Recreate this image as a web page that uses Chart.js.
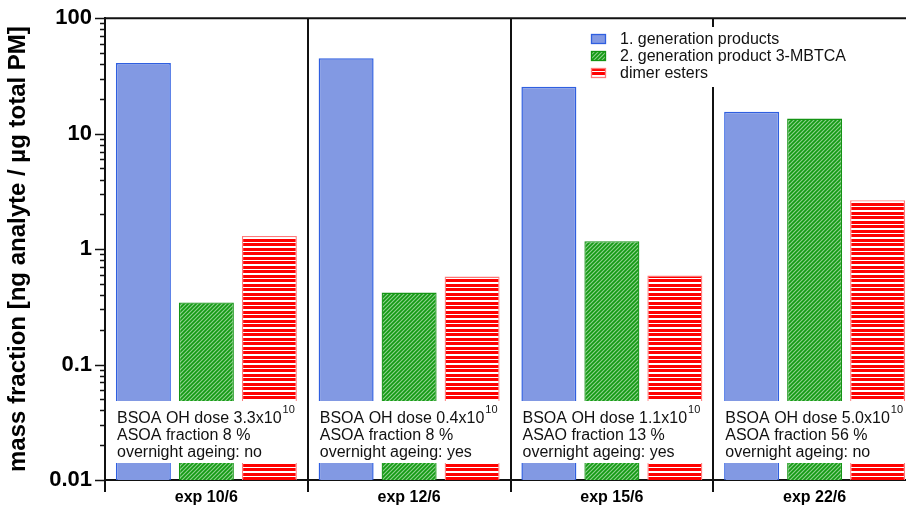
<!DOCTYPE html>
<html>
<head>
<meta charset="utf-8">
<script src="https://cdn.jsdelivr.net/npm/chart.js@4.4.0/dist/chart.umd.min.js"></script>
<style>
  html, body { margin: 0; padding: 0; background: #fff; overflow: hidden; }
  #wrap { width: 906px; height: 505px; overflow: hidden; position: relative; }
  canvas { display: block; }
</style>
</head>
<body>
<div id="wrap"><canvas id="c" width="920" height="505"></canvas></div>
<script>
// Experiments and measured mass fractions (ng analyte / µg total PM)
const experiments = ['exp 10/6', 'exp 12/6', 'exp 15/6', 'exp 22/6'];
const firstGeneration = [41, 45, 25.5, 15.5];
const mbtca = [0.345, 0.42, 1.17, 13.5];
const dimerEsters = [1.3, 0.58, 0.59, 2.65];

// Decade ticks on the logarithmic axis
const yDecades = [0.01, 0.1, 1, 10, 100];

// Experimental conditions printed in each group
const ohDose = ['3.3', '0.4', '1.1', '5.0'];
const organicFraction = ['ASOA fraction 8 %', 'ASOA fraction 8 %', 'ASAO fraction 13 %', 'ASOA fraction 56 %'];
const overnightAgeing = ['no', 'yes', 'yes', 'no'];

const FONT = '"Liberation Sans", Arial, Helvetica, sans-serif';

const canvas = document.getElementById('c');
const ctx = canvas.getContext('2d');

// Diagonal green hatch
function makeGreenHatch() {
  const t = document.createElement('canvas');
  t.width = 4; t.height = 4;
  const g = t.getContext('2d');
  g.fillStyle = '#8fd18f';
  g.fillRect(0, 0, 4, 4);
  g.strokeStyle = '#139a13';
  g.lineWidth = 1.7;
  g.beginPath();
  g.moveTo(-1, 5); g.lineTo(5, -1);
  g.moveTo(-1, 1); g.lineTo(1, -1);
  g.moveTo(3, 5); g.lineTo(5, 3);
  g.stroke();
  return ctx.createPattern(t, 'repeat');
}

// Horizontal red/white stripes
function makeRedStripes() {
  const t = document.createElement('canvas');
  t.width = 4; t.height = 9;
  const g = t.getContext('2d');
  g.fillStyle = '#ffffff';
  g.fillRect(0, 0, 4, 9);
  g.fillStyle = '#ff0000';
  g.fillRect(0, 0, 4, 3);
  g.fillRect(0, 5, 4, 3);
  return ctx.createPattern(t, 'repeat');
}

const greenHatch = makeGreenHatch();
const redStripes = makeRedStripes();

// Conditions box + legend + axis tick marks + top frame line
const decorations = {
  id: 'decorations',
  afterDatasetsDraw(chart) {
    const { ctx, scales: { x } } = chart;
    const cw = x.width / experiments.length;

    // conditions text boxes laid over the bars
    experiments.forEach((_, i) => {
      const cx = x.getPixelForValue(i);
      const left = cx - cw / 2;
      ctx.save();
      ctx.fillStyle = '#ffffff';
      ctx.fillRect(left + 6, 401, cw - 12, 62);
      ctx.fillStyle = '#111';
      ctx.textBaseline = 'alphabetic';
      ctx.textAlign = 'left';
      ctx.font = '16px ' + FONT;
      const tx = left + 12;
      const line1 = 'BSOA OH dose ' + ohDose[i] + 'x10';
      ctx.fillText(line1, tx, 423);
      const w = ctx.measureText(line1).width;
      ctx.fillText(organicFraction[i], tx, 440);
      ctx.fillText('overnight ageing: ' + overnightAgeing[i], tx, 457);
      ctx.font = '11px ' + FONT;
      ctx.fillText('10', tx + w + 1, 413);
      ctx.restore();
    });

    // legend
    const items = chart.data.datasets;
    ctx.save();
    ctx.fillStyle = '#ffffff';
    ctx.fillRect(584, 27, 300, 60);
    items.forEach((ds, k) => {
      const yy = 34 + k * 17;
      ctx.fillStyle = ds.backgroundColor;
      ctx.fillRect(591, yy, 15, 10);
      ctx.strokeStyle = ds.borderColor;
      ctx.lineWidth = 1.3;
      ctx.strokeRect(591.5, yy + 0.5, 14, 9);
      ctx.fillStyle = '#111';
      ctx.font = '16px ' + FONT;
      ctx.textBaseline = 'alphabetic';
      ctx.fillText(ds.label, 620, yy + 10);
    });
    ctx.restore();
  },
  afterDraw(chart) {
    const { ctx, chartArea, scales: { y } } = chart;
    ctx.save();
    ctx.strokeStyle = '#111';
    ctx.lineWidth = 1.5;
    ctx.beginPath();
    // major and minor ticks pointing outward from the y axis
    yDecades.forEach((d, k) => {
      const py = Math.round(y.getPixelForValue(d)) + 0.5;
      ctx.moveTo(chartArea.left - 10, py);
      ctx.lineTo(chartArea.left, py);
      if (k < yDecades.length - 1) {
        for (let m = 2; m <= 9; m++) {
          const my = Math.round(y.getPixelForValue(d * m)) + 0.5;
          ctx.moveTo(chartArea.left - 5, my);
          ctx.lineTo(chartArea.left, my);
        }
      }
    });
    ctx.stroke();
    // top frame line
    ctx.lineWidth = 2;
    ctx.beginPath();
    ctx.moveTo(chartArea.left - 1, chartArea.top);
    ctx.lineTo(chartArea.right + 1, chartArea.top);
    ctx.stroke();
    ctx.restore();
  }
};

new Chart(ctx, {
  type: 'bar',
  data: {
    labels: experiments,
    datasets: [
      { label: '1. generation products', data: firstGeneration, backgroundColor: '#8299e3', borderColor: '#2f5fe0', borderWidth: 1.5 },
      { label: '2. generation product 3-MBTCA', data: mbtca, backgroundColor: greenHatch, borderColor: '#149414', borderWidth: 1.3 },
      { label: 'dimer esters', data: dimerEsters, backgroundColor: redStripes, borderColor: '#ff7a7a', borderWidth: 1.3 }
    ]
  },
  options: {
    responsive: false,
    animation: false,
    layout: { padding: { top: 7, right: 4, left: 0, bottom: 0 } },
    datasets: { bar: { categoryPercentage: 0.932, barPercentage: 0.873 } },
    plugins: { legend: { display: false }, tooltip: { enabled: false } },
    scales: {
      x: {
        grid: { offset: true, color: '#111', lineWidth: 2, tickLength: 12, drawOnChartArea: true },
        border: { color: '#111', width: 2 },
        ticks: { font: { family: FONT, size: 16, weight: 'bold' }, color: '#000', padding: -4 },
        afterFit(s) { s.height = 25; }
      },
      y: {
        type: 'logarithmic',
        min: 0.01,
        max: 100,
        afterBuildTicks(s) { s.ticks = yDecades.map(v => ({ value: v })); },
        ticks: { callback: v => String(v), font: { family: FONT, size: 22, weight: 'bold' }, color: '#000', padding: 5 },
        grid: { display: false },
        border: { color: '#111', width: 2 },
        title: {
          display: true,
          text: 'mass fraction [ng analyte / µg total PM]',
          font: { family: FONT, size: 24, weight: 'bold' },
          color: '#000',
          padding: { top: 4, bottom: 0 }
        },
        afterFit(s) { s.width = 105; }
      }
    }
  },
  plugins: [decorations]
});
</script>
</body>
</html>
